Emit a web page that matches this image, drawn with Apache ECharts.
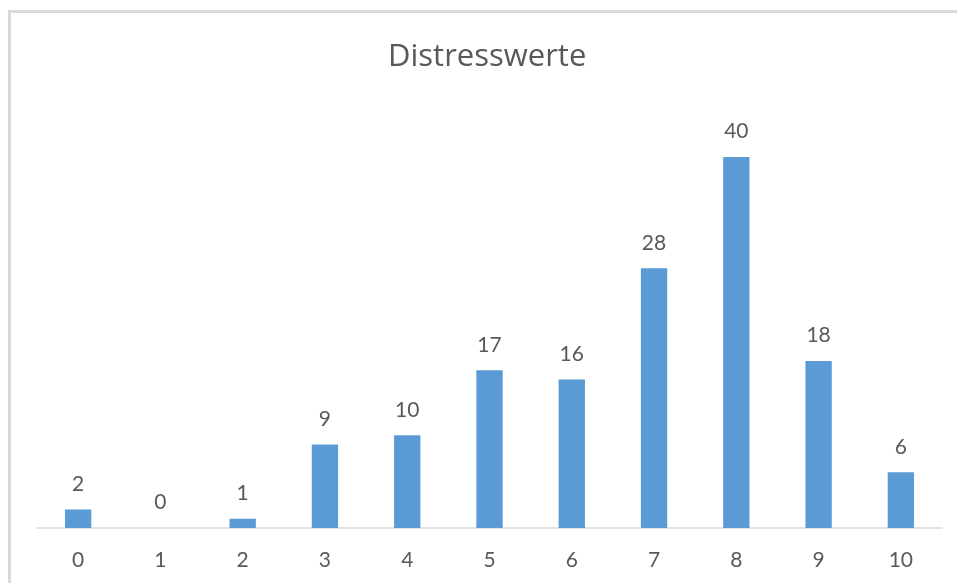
<!DOCTYPE html>
<html>
<head>
<meta charset="utf-8">
<script src="https://cdn.jsdelivr.net/npm/echarts@6/dist/echarts.min.js"></script>
<style>
  html, body { margin: 0; padding: 0; background: #ffffff; }
  #chart { width: 957px; height: 583px; }
</style>
</head>
<body>
<div id="chart"></div>
<script>
// Distress scores (0–10) and how many respondents gave each
const categories = ['0', '1', '2', '3', '4', '5', '6', '7', '8', '9', '10'];
const counts = [2, 0, 1, 9, 10, 17, 16, 28, 40, 18, 6];

const fontFamily = 'Lato, "Open Sans", sans-serif';
const textColor = '#595959';

const chart = echarts.init(document.getElementById('chart'), null, { renderer: 'canvas' });
chart.setOption({
  animation: false,
  backgroundColor: '#ffffff',
  graphic: [{
    type: 'rect',
    shape: { x: 9.5, y: 11.5, width: 1000, height: 700 },
    style: { fill: 'none', stroke: '#d9d9d9', lineWidth: 3 },
    silent: true
  }],
  title: {
    text: 'Distresswerte',
    left: 383,
    top: 37,
    textStyle: { fontFamily: '"Open Sans", Lato, sans-serif', fontSize: 31, fontWeight: 'normal', color: textColor }
  },
  grid: { left: 37, right: 15, top: 110.6, bottom: 55, containLabel: false },
  xAxis: {
    type: 'category',
    data: categories,
    axisLine: { lineStyle: { color: '#d9d9d9', width: 1.5 } },
    axisTick: { show: false },
    axisLabel: { margin: 22, fontFamily, fontSize: 21, color: textColor }
  },
  yAxis: {
    type: 'value',
    min: 0,
    max: 45,
    show: false
  },
  series: [{
    type: 'bar',
    data: counts,
    barWidth: '32%',
    itemStyle: { color: '#5b9bd5' },
    label: {
      show: true,
      position: 'top',
      distance: 15,
      fontFamily,
      fontSize: 21,
      color: textColor
    }
  }]
});
</script>
</body>
</html>
